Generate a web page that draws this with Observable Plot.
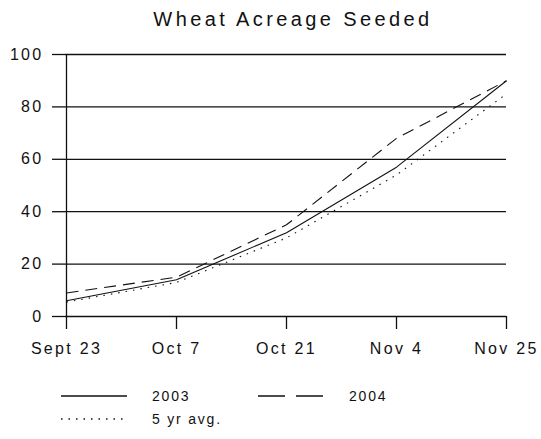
<!DOCTYPE html>
<html>
<head>
<meta charset="utf-8">
<script src="https://cdn.jsdelivr.net/npm/d3@7"></script>
<script src="https://cdn.jsdelivr.net/npm/@observablehq/plot@0.6"></script>
<style>
  body { margin: 0; background: #fff; font-family: "Liberation Sans", Arial, sans-serif; }
  #wrap { width: 541px; height: 439px; position: relative; overflow: hidden; }
  #title { height: 40px; box-sizing: border-box; padding-top: 9px; text-align: center; padding-left: 45px;
           font-size: 20px; letter-spacing: 3.4px; color: #111; line-height: 20px; }
  #chart svg { display: block; }
  #legend { display: block; }
</style>
</head>
<body>
<div id="wrap">
  <div id="title">Wheat Acreage Seeded</div>
  <div id="chart"></div>
  <svg id="legend" width="541" height="79"></svg>
</div>
<script>
const dates = ["Sept 23", "Oct 7", "Oct 21", "Nov 4", "Nov 25"];
const values2003 = [6, 14, 32, 57, 90];
const values2004 = [9, 15, 35, 68, 90];
const valuesAvg = [5.5, 13, 30, 54, 85];
const seriesNames = ["2003", "2004", "5 yr avg."];
const yTicks = [0, 20, 40, 60, 80, 100];

const dashes = { "2003": null, "2004": "12,7", "5 yr avg.": "1.5,6" };

const rows = [];
[values2003, values2004, valuesAvg].forEach((vals, i) => {
  vals.forEach((v, j) => rows.push({ date: dates[j], value: v, series: seriesNames[i] }));
});

const W = 541, mL = 65, mR = 35;
const chart = Plot.plot({
  width: W,
  height: 320,
  marginLeft: mL,
  marginRight: mR,
  marginTop: 14,
  marginBottom: 44,
  style: { fontFamily: "'Liberation Sans', Arial, sans-serif", fontSize: "16px", color: "#111", background: "#fff", letterSpacing: "2.3px" },
  x: { type: "point", domain: dates, padding: 0 },
  y: { domain: [0, 100] },
  marks: [
    Plot.ruleY(yTicks, { stroke: "#111", strokeWidth: 1.3 }),
    Plot.ruleX([dates[0]], { y1: 0, y2: 100, stroke: "#111", strokeWidth: 1.3 }),
    Plot.axisY({ ticks: yTicks, tickSize: 13, tickPadding: 9, stroke: "#111", strokeWidth: 1.3, label: null }),
    Plot.axisX({ tickSize: 13, tickPadding: 13, stroke: "#111", strokeWidth: 1.3, label: null }),
    ...seriesNames.map(name => Plot.line(rows.filter(d => d.series === name), {
      x: "date", y: "value", stroke: "#111", strokeWidth: 1.1,
      strokeDasharray: dashes[name], strokeLinecap: "butt"
    }))
  ]
});
document.getElementById("chart").appendChild(chart);

// legend
const leg = d3.select("#legend");
const items = [
  { name: "2003", x: 61, y: 36 },
  { name: "2004", x: 258, y: 36 },
  { name: "5 yr avg.", x: 61, y: 59 }
];
items.forEach(it => {
  leg.append("line")
    .attr("x1", it.x).attr("x2", it.x + 66)
    .attr("y1", it.y).attr("y2", it.y)
    .attr("stroke", "#111").attr("stroke-width", 1.3)
    .attr("stroke-dasharray", it.name === "2004" ? "27,11" : it.name === "5 yr avg." ? "1.5,6" : null);
  leg.append("text")
    .attr("x", it.x + 91).attr("y", it.y + 5)
    .attr("font-size", 14).attr("letter-spacing", "1.8px")
    .attr("fill", "#111")
    .text(it.name);
});
</script>
</body>
</html>
